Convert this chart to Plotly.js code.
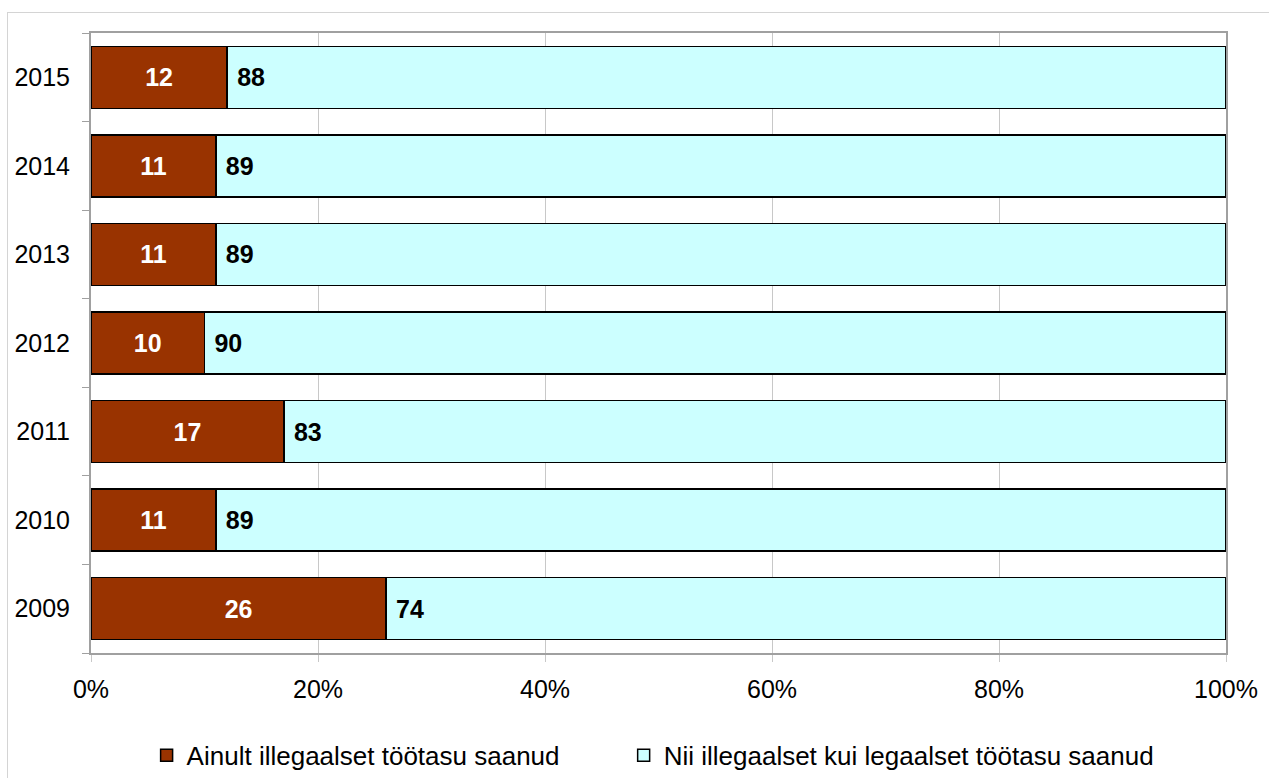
<!DOCTYPE html>
<html>
<head>
<meta charset="utf-8">
<script src="https://cdn.plot.ly/plotly-3.0.1.min.js"></script>
<style>
  html, body { margin: 0; padding: 0; background: #fff; }
  #frame { position: absolute; left: 7px; top: 12px; width: 1300px; height: 800px; border: 1px solid #d4d4d4; box-sizing: border-box; }
  #chart { position: absolute; left: 0; top: 0; width: 1269px; height: 778px; }
</style>
</head>
<body>
<div id="frame"></div>
<div id="chart"></div>
<script>
const years = ['2009', '2010', '2011', '2012', '2013', '2014', '2015'];
const onlyIllegal = [26, 11, 17, 10, 11, 11, 12];
const bothIllegalLegal = [74, 89, 83, 90, 89, 89, 88];
const seriesNames = ['Ainult illegaalset töötasu saanud', 'Nii illegaalset kui legaalset töötasu saanud'];
const xTickVals = [0, 20, 40, 60, 80, 100];
const xTickText = ['0%', '20%', '40%', '60%', '80%', '100%'];

const FONT = 'Liberation Sans, Arial, sans-serif';

const traces = [
  {
    type: 'bar', orientation: 'h', name: seriesNames[0], legend: 'legend',
    y: years, x: onlyIllegal,
    marker: { color: '#993300', line: { color: '#000', width: 1.5 } },
    text: onlyIllegal.map(String), textposition: 'inside', insidetextanchor: 'middle',
    textfont: { family: FONT, size: 25, color: '#ffffff', weight: 'bold' },
    hoverinfo: 'x+y'
  },
  {
    type: 'bar', orientation: 'h', name: seriesNames[1], legend: 'legend2',
    y: years, x: bothIllegalLegal,
    marker: { color: '#CCFFFF', line: { color: '#000', width: 1.5 } },
    text: bothIllegalLegal.map(v => '\u00a0' + v), textposition: 'inside', insidetextanchor: 'start',
    textfont: { family: FONT, size: 25, color: '#000000', weight: 'bold' },
    hoverinfo: 'x+y'
  }
];

const legendCommon = {
  orientation: 'h', xanchor: 'left', y: -0.165, yanchor: 'middle',
  font: { family: FONT, size: 26, color: '#000' }, bgcolor: 'rgba(0,0,0,0)'
};

const layout = {
  width: 1269, height: 778,
  margin: { l: 91, r: 43, t: 33, b: 125, autoexpand: false },
  barmode: 'stack', bargap: 0.3,
  paper_bgcolor: 'rgba(0,0,0,0)', plot_bgcolor: '#ffffff',
  font: { family: FONT, size: 25, color: '#000' },
  showlegend: true,
  legend: Object.assign({}, legendCommon, { x: 0.049 }),
  legend2: Object.assign({}, legendCommon, { x: 0.4693 }),
  xaxis: {
    range: [0, 100], tickvals: xTickVals, ticktext: xTickText,
    showgrid: true, gridcolor: '#c8c8c8', gridwidth: 1,
    showline: true, linecolor: '#a0a0a0', linewidth: 2, mirror: true,
    ticks: 'outside', ticklen: 7, tickcolor: '#c8c8c8', tickwidth: 1,
    ticklabelstandoff: 6, zeroline: false, fixedrange: true,
    tickfont: { family: FONT, size: 25, color: '#000' }
  },
  yaxis: {
    type: 'category', categoryorder: 'array', categoryarray: years,
    showgrid: false, showline: true, linecolor: '#a0a0a0', linewidth: 2, mirror: true,
    ticks: 'outside', ticklen: 7, tickcolor: '#a0a0a0', tickwidth: 1, tickson: 'boundaries',
    ticklabelstandoff: 14, fixedrange: true,
    tickfont: { family: FONT, size: 25, color: '#000' }
  }
};

Plotly.newPlot('chart', traces, layout, { displayModeBar: false, staticPlot: true });
</script>
</body>
</html>
